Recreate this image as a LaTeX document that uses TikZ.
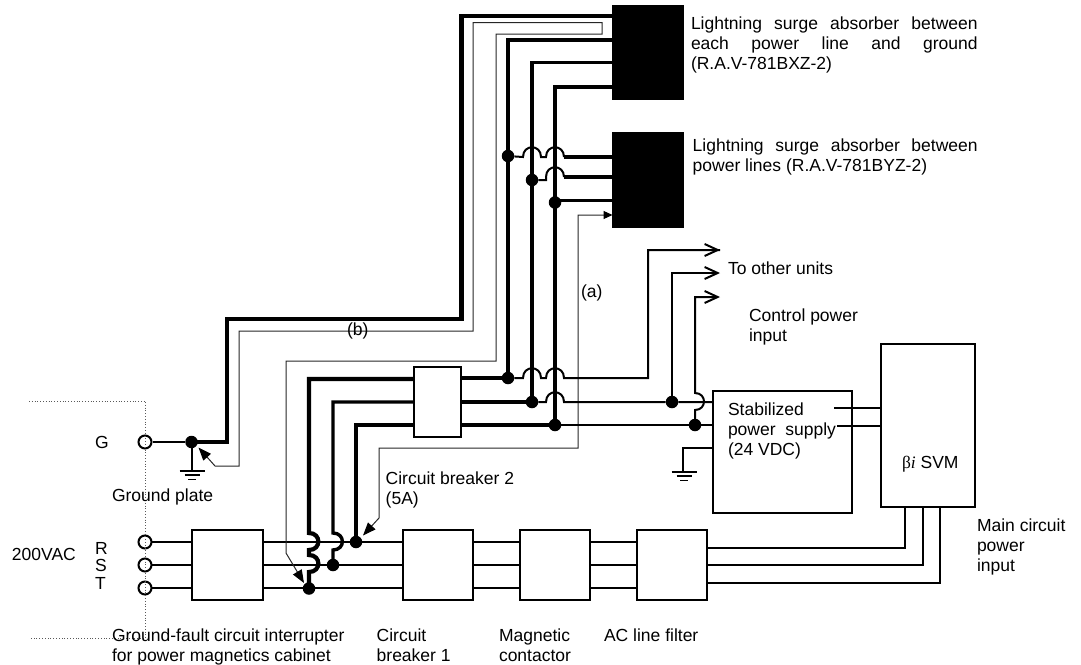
\documentclass[tikz,border=0pt]{standalone}
\usepackage{fontspec}
\setmainfont{Liberation Sans}
\newfontfamily\grkserif{Liberation Serif}
\usetikzlibrary{arrows.meta}
\tikzset{
  box/.style={draw,line width=1.8pt,fill=white,inner sep=0pt,outer sep=0pt},
  blackbox/.style={draw,fill=black,line width=.5pt,inner sep=0pt,outer sep=0pt,minimum width=71pt,minimum height=94pt},
  dot/.style={circle,fill=black,inner sep=0pt,minimum size=12.5pt},
  term/.style={circle,draw,line width=2pt,fill=white,inner sep=0pt,minimum size=13pt},
  heavy/.style={line width=4.2pt,miter limit=4},
  medium/.style={line width=3.4pt},
  wire/.style={line width=2pt},
  fine/.style={line width=1pt,black!85},
  tiptri/.style={{Triangle[length=13pt,width=10pt,black]}-{Triangle[length=13pt,width=10pt,black]}},
  tiptrib/.style={{Triangle[length=9pt,width=8pt,black]}-{Triangle[length=13pt,width=10pt,black]}},
  tipbarb/.style={-{Straight Barb[length=13pt,width=12pt,line width=2pt]}},
  txt/.style={anchor=base west,inner sep=0pt,outer sep=0pt,align=left,font=\fontsize{17.5}{20}\selectfont},
  gndline/.style={line width=1.6pt}
}
\newcommand{\hopH}{.. controls +(0,-13) and +(0,-13) .. ++(18,0)}
\newcommand{\hopV}{.. controls +(12.5,0) and +(12.5,0) .. ++(0,17)}
\newcommand{\hopVup}{.. controls +(12,0) and +(12,0) .. ++(0,-17)}
\newcommand{\gndsym}[2]{%
  \draw[gndline] (#1-12.5,#2) -- (#1+12.5,#2);
  \draw[gndline] (#1-7.5,#2+4.2) -- (#1+7.5,#2+4.2);
  \draw[gndline] (#1-4,#2+8.4) -- (#1+4,#2+8.4);}
\begin{document}
\begin{tikzpicture}[x=1pt,y=-1pt]
\useasboundingbox (0,0) rectangle (1081,664);
% rails
\coordinate (R) at (0,542);
\coordinate (S) at (0,565);
\coordinate (T) at (0,588);
% boxes
\node[blackbox] (sa1) at (648,52) {};
\node[blackbox,minimum height=95pt] (sa2) at (648,179.5) {};
\node[box,minimum width=47pt,minimum height=70pt] (cb2) at (437.5,402) {};
\node[box,minimum width=71pt,minimum height=70pt] (gf) at (227.5,565) {};
\node[box,minimum width=70pt,minimum height=70pt] (cb1) at (438,565) {};
\node[box,minimum width=70pt,minimum height=70pt] (mc) at (555,565) {};
\node[box,minimum width=70pt,minimum height=70pt] (acf) at (672,565) {};
\node[box,minimum width=139pt,minimum height=122pt] (stab) at (782.5,452) {};
\node[box,line width=2.2pt,minimum width=94pt,minimum height=163pt] (svm) at (928,425.5) {};
% junctions
\node[dot] (jG) at (191.5,442) {};
\node[dot] (jR) at (356,542) {};
\node[dot] (jS) at (333,565) {};
\node[dot] (jT) at (309,588.5) {};
\node[dot] (j1) at (508,378) {};
\node[dot] (j2) at (532,402) {};
\node[dot] (j3) at (555,425) {};
\node[dot] (u1) at (508,156) {};
\node[dot] (u2) at (532,180) {};
\node[dot] (u3) at (555,202.5) {};
\node[dot] (c1) at (672,402) {};
\node[dot] (c2) at (695,425) {};
% rails drawn through the boxes
\foreach \r in {R,S,T}{
  \draw[wire] (145,0 |- \r) -- (gf.west |- \r);
  \draw[wire] (gf.east |- \r) -- (cb1.west |- \r);
  \draw[wire] (cb1.east |- \r) -- (mc.west |- \r);
  \draw[wire] (mc.east |- \r) -- (acf.west |- \r);
}
% terminals
\node[term] (tG) at (145,442) {};
\node[term] (tR) at (145,542) {};
\node[term] (tS) at (145,565) {};
\node[term] (tT) at (145,588) {};
% ground wire
\draw[wire] (tG) -- (jG);
\draw[heavy] (jG.center) -| (227,319) -| (461.5,16) -- (sa1.west |- 0,16);
\draw[wire] (jG.center) -- (191.5,471);
\gndsym{192}{471}
% (b) bonding wire
\coordinate (bTip) at (198.5,447.5);
\coordinate (tTip) at (304,583);
\draw[fine,tiptri] (bTip) -- (215,466) -- (239,466) |- (473,331) |- (602,22.5) |- (496,34) |- (286,361) -- (286,553) -- (tTip);
% (a) bonding wire
\coordinate (rTip) at (363,535.5);
\draw[fine,tiptrib] (sa2.west |- 0,215) -| (578,448) -| (379,518) -- (rTip);
% thick risers from breaker 2 to the absorbers
\draw[heavy] (sa1.west |- 0,40) -| (j1.center);
\draw[medium] (sa1.west |- 0,62.5) -| (j2.center);
\draw[medium] (sa1.west |- 0,87) -| (j3.center);
% breaker 2 left side
\draw[heavy] (cb2.west |- 0,379) -| (309,533) \hopV -- (309,555) \hopV -- (jT.center);
\draw[medium] (cb2.west |- 0,402) -| (333,533) \hopV -- (jS.center);
\draw[medium] (cb2.west |- 0,425) -| (jR.center);
% breaker 2 right side
\draw[medium] (cb2.east |- j1) -- (j1);
\draw[medium] (cb2.east |- j2) -- (j2);
\draw[medium] (cb2.east |- j3) -- (j3);
\draw[wire] (j1) -- (523,378) \hopH -- (546,378) \hopH -- (648,378) |- (720,250);
\draw[wire,tipbarb] (648,250) -- (720,250);
\draw[wire] (j2) -- (546,402) \hopH -- (c1) -- (stab.west |- c1);
\draw[wire,tipbarb] (c1.center) |- (720,273);
\draw[wire] (j3) -- (c2) -- (stab.west |- c2);
\draw[wire,tipbarb] (c2.center) -- (695,410) \hopVup -- (695,297) -- (720,297);
% upper taps to absorber 2
\draw[wire] (u1) -- (523,157) \hopH -- (546,157) \hopH;
\draw[medium] (564,157) -- (sa2.west |- 0,157);
\draw[wire] (u2) -- (546,180) -- (546,177) \hopH;
\draw[medium] (564,177) -- (sa2.west |- 0,177);
\draw[medium] (u3 |- 0,200.5) -- (sa2.west |- 0,200.5);
% control ground
\draw[wire] (stab.west |- 0,448) -| (683,472);
\gndsym{684}{472}
% power supply to SVM
\coordinate (p1) at (834,408);
\coordinate (p2) at (837,426);
\draw[wire] (p1) -- (svm.west |- p1);
\draw[wire] (p2) -- (svm.west |- p2);
% main circuit input
\draw[wire] (acf.east |- 0,548) -| (905,0 |- svm.south);
\draw[wire] (acf.east |- 0,565) -| (923,0 |- svm.south);
\draw[wire] (acf.east |- 0,583) -| (940,0 |- svm.south);
% cabinet border
\draw[dotted,line width=.8pt,black!65] (29,401) -| (145.6,638) -- (29,638);
% labels
\node[txt] (l1) at (691,69) {\hbox to 286.7pt{Lightning\hfill surge\hfill absorber\hfill between}\\\hbox to 286.7pt{each\hfill power\hfill line\hfill and\hfill ground}\\(R.A.V-781BXZ-2)};
\node[txt] (l2) at (692.7,171) {\hbox to 285pt{Lightning\hfill surge\hfill absorber\hfill between}\\power lines (R.A.V-781BYZ-2)};
\node[txt] (l3) at (728,274) {To other units};
\node[txt] (l4) at (749,341) {Control power\\input};
\node[txt] (l5) at (581,297) {(a)};
\node[txt] (l6) at (347,335) {(b)};
\node[txt] (l7) at (95,448) {G};
\node[txt] (l8) at (112,501) {Ground plate};
\node[txt] (l9) at (385.7,504) {Circuit breaker 2\\(5A)};
\node[txt] (l10) at (12,560) {200VAC};
\node[txt] (l11) at (95,554) {R};
\node[txt] (l12) at (95,571.5) {S};
\node[txt] (l13) at (95,589) {T};
\node[txt] (l14) at (112,661) {Ground-fault circuit interrupter\\for power magnetics cabinet};
\node[txt] (l15) at (376.7,661) {Circuit\\breaker 1};
\node[txt] (l16) at (499,661) {Magnetic\\contactor};
\node[txt] (l17) at (604,641) {AC line filter};
\node[txt] (l18) at (728,455) {Stabilized\\power\ \ supply\\(24 VDC)};
\node[txt] (l19) at (902,468) {{\grkserif β\textit{i}} SVM};
\node[txt] (l20) at (977,571) {Main circuit\\power\\input};
\end{tikzpicture}
\end{document}
